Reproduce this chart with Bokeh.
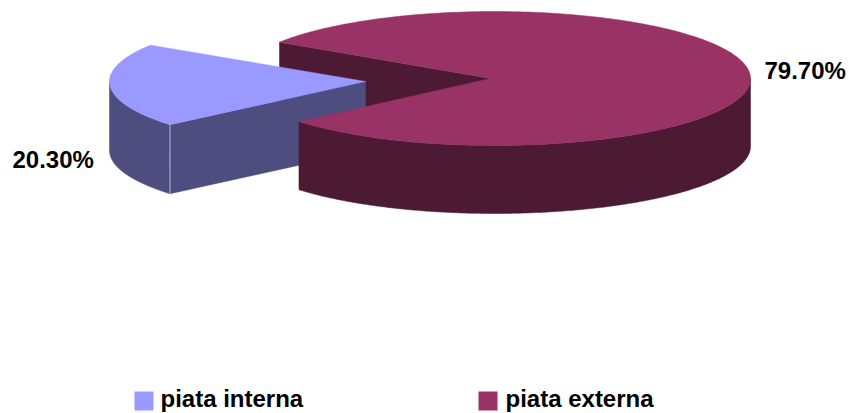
import numpy as np
from bokeh.core.properties import value
from bokeh.embed import file_html
from bokeh.models import Range1d
from bokeh.plotting import figure
from bokeh.resources import INLINE

categories = ["piata interna", "piata externa"]
shares = [20.3, 79.7]
top_colors = ["#9999FF", "#993366"]
side_colors = ["#4D4D7F", "#4D1A33"]

FONT = value("Liberation Sans")
RX, RY = 256, 67
START = 139.8
small_centre, small_apex, small_depth = (365, 81), (365, 81), 69
main_centre, main_apex, main_depth = (494, 78), (490, 78), 68


def arc(centre, a0, a1):
    t = np.radians(np.linspace(a0, a1, 240))
    return centre[0] + RX * np.cos(t), centre[1] + RY * np.sin(t)


p = figure(width=849, height=413, x_range=Range1d(0, 849), y_range=Range1d(413, 0),
           x_axis_location=None, y_axis_location=None, toolbar_location=None,
           output_backend="svg", min_border=0, outline_line_color=None)
p.grid.visible = False

small_end = START + shares[0] * 3.6
main_end = small_end + shares[1] * 3.6

# far cut wall of the large slice
mx0, my0 = arc(main_centre, small_end, small_end)
p.patch([mx0[0], main_apex[0], main_apex[0], mx0[0]],
        [my0[0], main_apex[1], main_apex[1] + main_depth, my0[0] + main_depth],
        fill_color=side_colors[1], line_color=side_colors[1], line_width=0.5)

# detached slice: rim, cut wall, top
sx, sy = arc(small_centre, START, small_end)
rx_, ry_ = arc(small_centre, START, 180)
p.patch(np.r_[rx_, rx_[::-1]], np.r_[ry_, ry_[::-1] + small_depth],
        fill_color=side_colors[0], line_color=side_colors[0], line_width=0.5)
p.patch([sx[0], small_apex[0], small_apex[0], sx[0]],
        [sy[0], small_apex[1], small_apex[1] + small_depth, sy[0] + small_depth],
        fill_color=side_colors[0], line_color=side_colors[0], line_width=0.5)
p.patch(np.r_[small_apex[0], sx], np.r_[small_apex[1], sy],
        fill_color=top_colors[0], line_color=top_colors[0], line_width=0.5)
p.line([sx[0], sx[0]], [sy[0], sy[0] + small_depth], line_color="#B8B8E0", line_width=1)

# large slice: outer rim and top
wx, wy = arc(main_centre, 360, START + 360)
p.patch(np.r_[wx, wx[::-1]], np.r_[wy, wy[::-1] + main_depth],
        fill_color=side_colors[1], line_color=side_colors[1], line_width=0.5)
tx, ty = arc(main_centre, small_end, main_end)
p.patch(np.r_[main_apex[0], tx], np.r_[main_apex[1], ty],
        fill_color=top_colors[1], line_color=top_colors[1], line_width=0.5)

# value labels
p.text([12, 764], [159, 70], text=[f"{s:.2f}%" for s in shares], text_font=FONT,
       text_font_style="bold", text_font_size="24px", text_color="#000000",
       text_align="left", text_baseline="middle")

# legend
p.quad(left=[134, 478], right=[153, 497], top=[391, 391], bottom=[410, 410],
       fill_color=top_colors, line_color=None)
p.text([160, 505], [398, 398], text=categories, text_font=FONT,
       text_font_style="bold", text_font_size="24px", text_color="#000000",
       text_align="left", text_baseline="middle")

open("out.html", "w").write(file_html(p, INLINE))
